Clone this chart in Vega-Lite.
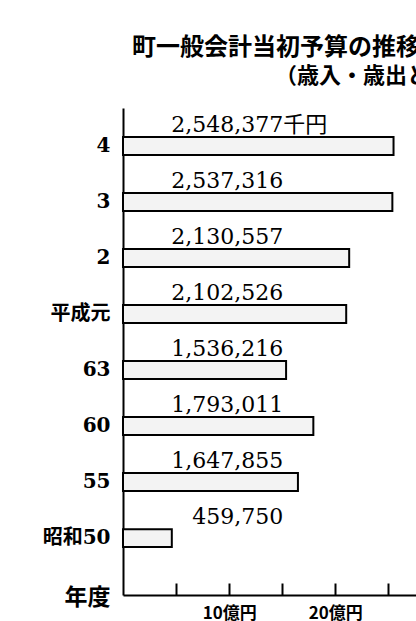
{
  "$schema": "https://vega.github.io/schema/vega-lite/v6.json",
  "autosize": {"type": "none"},
  "width": 293,
  "height": 487,
  "padding": {"left": 123, "top": 108, "right": 0, "bottom": 26},
  "background": "white",
  "title": {
    "text": "町一般会計当初予算の推移",
    "subtitle": "\u200b　　　　　　\u2002（歳入・歳出とも）",
    "anchor": "start",
    "frame": "group",
    "dx": 9,
    "offset": 21,
    "font": "Noto Sans CJK JP",
    "fontSize": 24,
    "fontWeight": "bold",
    "color": "black",
    "subtitleFont": "Noto Sans CJK JP",
    "subtitleFontSize": 22,
    "subtitleFontWeight": "bold",
    "subtitleColor": "black",
    "subtitlePadding": 6
  },
  "data": {
    "values": [
      {"year": "4", "value": 2548377, "unit": "千円"},
      {"year": "3", "value": 2537316, "unit": ""},
      {"year": "2", "value": 2130557, "unit": ""},
      {"year": "平成元", "value": 2102526, "unit": ""},
      {"year": "63", "value": 1536216, "unit": ""},
      {"year": "60", "value": 1793011, "unit": ""},
      {"year": "55", "value": 1647855, "unit": ""},
      {"year": "昭和50", "value": 459750, "unit": ""}
    ]
  },
  "encoding": {
    "y": {
      "field": "year",
      "type": "nominal",
      "sort": null,
      "scale": {"paddingInner": 0.68, "paddingOuter": 0.687, "align": 0.377},
      "axis": {
        "title": "年度",
        "titleAngle": 0,
        "titleAlign": "right",
        "titleBaseline": "middle",
        "titleX": -13,
        "titleY": 489,
        "titleFont": "Noto Sans CJK JP",
        "titleFontSize": 23,
        "titleFontWeight": "bold",
        "titleColor": "black",
        "ticks": false,
        "labelPadding": 13,
        "labelFont": "DejaVu Serif, Noto Sans CJK JP",
        "labelFontSize": 20,
        "labelFontWeight": "bold",
        "labelColor": "black",
        "domainColor": "black",
        "domainWidth": 2
      }
    }
  },
  "layer": [
    {
      "mark": {"type": "bar", "fill": "#f3f3f3", "stroke": "black", "strokeWidth": 2},
      "encoding": {
        "x": {
          "field": "value",
          "type": "quantitative",
          "scale": {"domain": [0, 2760000], "nice": false, "zero": true},
          "axis": {
            "title": null,
            "values": [500000, 1000000, 1500000, 2000000, 2500000],
            "labelExpr": "datum.value % 1000000 == 0 ? (datum.value / 100000) + '億円' : ''",
            "tickSize": -12,
            "tickWidth": 2,
            "tickColor": "black",
            "domainColor": "black",
            "domainWidth": 2,
            "grid": false,
            "labelFlush": false,
            "labelOverlap": false,
            "labelPadding": 22,
            "labelFont": "Noto Sans CJK JP",
            "labelFontSize": 17,
            "labelFontWeight": "bold",
            "labelColor": "black"
          }
        }
      }
    },
    {
      "mark": {"type": "text", "align": "right", "baseline": "alphabetic", "dy": -14, "font": "DejaVu Serif", "fontSize": 22, "color": "black"},
      "encoding": {
        "x": {"datum": 1510000, "type": "quantitative"},
        "text": {"field": "value", "type": "quantitative", "format": ",d"}
      }
    },
    {
      "transform": [{"filter": "datum.unit != ''"}],
      "mark": {"type": "text", "align": "left", "baseline": "alphabetic", "dy": -14, "font": "Noto Sans CJK JP", "fontSize": 22, "color": "black"},
      "encoding": {
        "x": {"datum": 1510000, "type": "quantitative"},
        "text": {"field": "unit", "type": "nominal"}
      }
    }
  ],
  "config": {"view": {"stroke": null}}
}
